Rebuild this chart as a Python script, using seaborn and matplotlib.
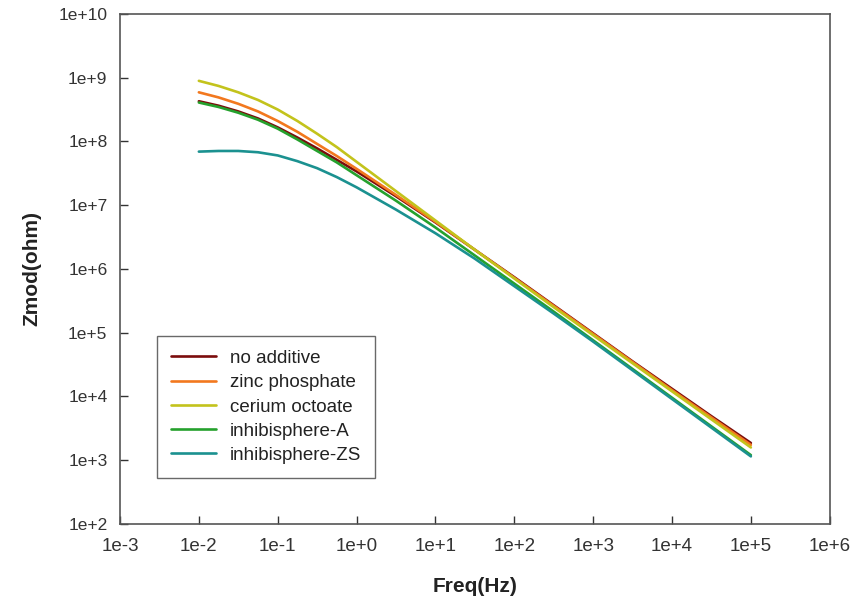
import numpy as np
import pandas as pd
import matplotlib
matplotlib.use("Agg")
import matplotlib.pyplot as plt
import seaborn as sns
from matplotlib.ticker import FixedLocator, FuncFormatter, NullLocator

# log10 de la frecuencia (Hz)
log_freq = [-2, -1.75, -1.5, -1.25, -1, -0.75, -0.5, -0.25, 0, 0.5, 1, 1.5, 2, 2.5, 3, 3.5, 4, 4.5, 5]

# log10 |Z| (ohm) para cada recubrimiento
no_additive    = [8.63, 8.56, 8.47, 8.36, 8.22, 8.06, 7.89, 7.71, 7.53, 7.14, 6.73, 6.30, 5.87, 5.43, 4.99, 4.55, 4.12, 3.69, 3.27]
zinc_phosphate = [8.77, 8.69, 8.59, 8.47, 8.32, 8.15, 7.96, 7.77, 7.57, 7.16, 6.74, 6.30, 5.86, 5.42, 4.98, 4.54, 4.10, 3.67, 3.24]
cerium_octoate = [8.95, 8.87, 8.77, 8.65, 8.50, 8.32, 8.12, 7.91, 7.68, 7.22, 6.76, 6.30, 5.85, 5.40, 4.96, 4.52, 4.08, 3.64, 3.20]
inhibi_A       = [8.61, 8.54, 8.45, 8.34, 8.20, 8.03, 7.85, 7.67, 7.47, 7.07, 6.65, 6.21, 5.77, 5.33, 4.88, 4.43, 3.98, 3.53, 3.08]
inhibi_ZS      = [7.84, 7.85, 7.85, 7.83, 7.78, 7.69, 7.58, 7.44, 7.28, 6.93, 6.56, 6.16, 5.73, 5.30, 4.86, 4.41, 3.96, 3.51, 3.06]

series_names = ["no additive", "zinc phosphate", "cerium octoate",
                "inhibisphere-A", "inhibisphere-ZS"]
series_vals = [no_additive, zinc_phosphate, cerium_octoate, inhibi_A, inhibi_ZS]
colores = ["#7b0c0c", "#f2781e", "#c3c31c", "#25a12d", "#1b9190"]

rows = []
for name, vals in zip(series_names, series_vals):
    for lf, lz in zip(log_freq, vals):
        rows.append({"Freq": 10 ** lf, "Zmod": 10 ** lz, "serie": name})
df = pd.DataFrame(rows)

sns.set_style("white")
plt.rcParams["font.family"] = ["Liberation Sans", "DejaVu Sans"]

fig = plt.figure(figsize=(8.51, 6.04), dpi=100)
ax = fig.add_axes([0.141, 0.1325, 0.834, 0.8445])

sns.lineplot(data=df, x="Freq", y="Zmod", hue="serie", hue_order=series_names,
             palette=dict(zip(series_names, colores)), linewidth=1.9,
             sort=False, ax=ax)

ax.set_xscale("log")
ax.set_yscale("log")
ax.set_xlim(1e-3, 1e6)
ax.set_ylim(1e2, 1e10)

fmt = FuncFormatter(lambda v, p: f"1e{int(round(np.log10(v))):+d}")
ax.xaxis.set_major_locator(FixedLocator([10.0 ** k for k in range(-3, 7)]))
ax.yaxis.set_major_locator(FixedLocator([10.0 ** k for k in range(2, 11)]))
ax.xaxis.set_minor_locator(NullLocator())
ax.yaxis.set_minor_locator(NullLocator())
ax.xaxis.set_major_formatter(fmt)
ax.yaxis.set_major_formatter(fmt)

ax.tick_params(axis="both", which="major", direction="in", length=6, width=1,
               labelsize=12.5, colors="#333333", pad=9,
               bottom=True, left=True, top=False, right=False)
ax.tick_params(axis="x", labelsize=13.5, pad=10)
for s in ax.spines.values():
    s.set_color("#555555")
    s.set_linewidth(1.2)

ax.set_xlabel("Freq(Hz)", fontsize=15, fontweight="bold", labelpad=16, color="#222222")
ax.set_ylabel("Zmod(ohm)", fontsize=15, fontweight="bold", labelpad=12, color="#222222")
ax.grid(False)

leg = ax.legend(loc="lower left", bbox_to_anchor=(0.052, 0.09), borderaxespad=0,
                fontsize=13.5, frameon=True, fancybox=False, handlelength=2.4,
                labelspacing=0.38, borderpad=0.75, handletextpad=0.75)
leg.get_frame().set_edgecolor("#444444")
leg.get_frame().set_linewidth(1.0)
for t in leg.get_texts():
    t.set_color("#222222")

fig.savefig("out.png", dpi=100)
plt.close(fig)
